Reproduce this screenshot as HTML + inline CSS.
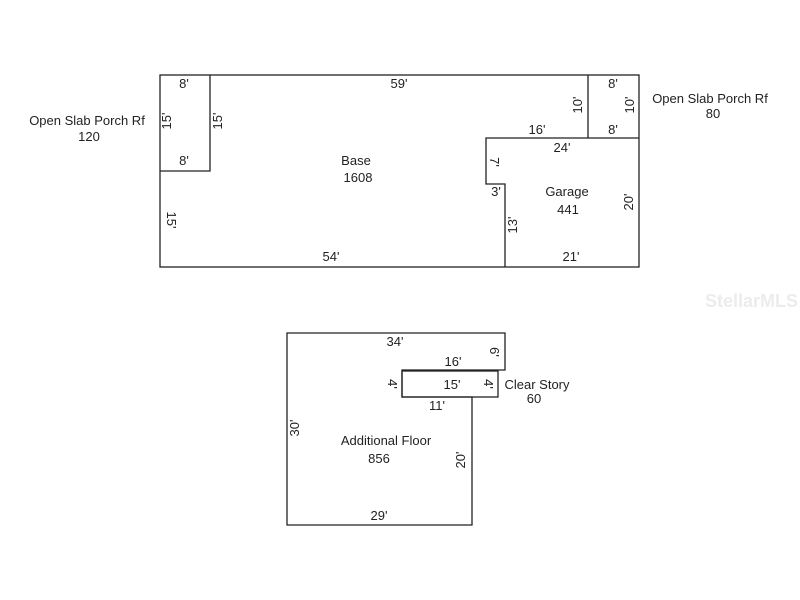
<!DOCTYPE html>
<html><head><style>body{margin:0;background:#fff}svg{display:block}text{font-family:"Liberation Sans",Arial,sans-serif;font-size:13px;fill:#222}</style></head><body>
<svg width="800" height="600" xmlns="http://www.w3.org/2000/svg">
<g fill="none" stroke="#222" stroke-width="1.3">
<rect x="160" y="75" width="479" height="192"/>
<polyline points="210,75 210,171 160,171"/>
<polyline points="588,75 588,138 639,138"/>
<polyline points="588,138 486,138 486,184 505,184 505,267"/>
<polygon points="287,333 505,333 505,370 402,370 402,397 472,397 472,525 287,525"/>
<rect x="402" y="371" width="96" height="26"/>
</g>
<g text-anchor="middle">
<text x="184" y="88">8'</text>
<text x="184" y="165">8'</text>
<text x="399" y="88">59'</text>
<text x="613" y="88">8'</text>
<text x="613" y="134">8'</text>
<text x="537" y="134">16'</text>
<text x="562" y="152">24'</text>
<text x="356" y="165">Base</text>
<text x="358" y="182">1608</text>
<text x="567" y="196">Garage</text>
<text x="568" y="214">441</text>
<text x="496" y="196">3'</text>
<text x="331" y="261">54'</text>
<text x="571" y="261">21'</text>
<text x="87" y="125">Open Slab Porch Rf</text>
<text x="89" y="141">120</text>
<text x="710" y="103">Open Slab Porch Rf</text>
<text x="713" y="118">80</text>
<text x="395" y="346">34'</text>
<text x="453" y="366">16'</text>
<text x="452" y="389">15'</text>
<text x="437" y="410">11'</text>
<text x="537" y="389">Clear Story</text>
<text x="534" y="403">60</text>
<text x="386" y="445">Additional Floor</text>
<text x="379" y="463">856</text>
<text x="379" y="520">29'</text>
<text transform="translate(171,121) rotate(-90)">15'</text>
<text transform="translate(222,121) rotate(-90)">15'</text>
<text transform="translate(167,220) rotate(90)">15'</text>
<text transform="translate(582,105) rotate(-90)">10'</text>
<text transform="translate(634,105) rotate(-90)">10'</text>
<text transform="translate(490,162) rotate(90)">7'</text>
<text transform="translate(517,225) rotate(-90)">13'</text>
<text transform="translate(633,202) rotate(-90)">20'</text>
<text transform="translate(299,428) rotate(-90)">30'</text>
<text transform="translate(465,460) rotate(-90)">20'</text>
<text transform="translate(490,352) rotate(90)">6'</text>
<text transform="translate(388,384) rotate(90)">4'</text>
<text transform="translate(484,384) rotate(90)">4'</text>
</g>
<text x="705" y="307" style="font-size:18px;font-weight:bold;fill:#ececec">StellarMLS</text>
</svg>
</body></html>
